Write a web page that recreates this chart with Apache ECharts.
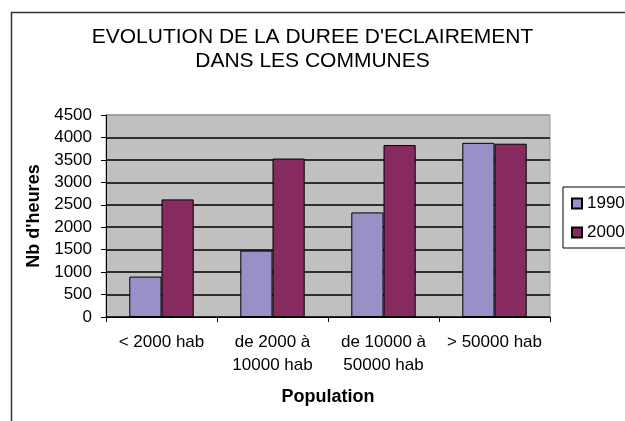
<!DOCTYPE html>
<html>
<head>
<meta charset="utf-8">
<script src="https://cdn.jsdelivr.net/npm/echarts@6/dist/echarts.min.js"></script>
<style>
  * { margin: 0; padding: 0; }
  body { background: #fff; }
  #chart { width: 625px; height: 421px; }
</style>
</head>
<body>
<div id="chart"></div>
<script>
// tranches de population
var categories = ["< 2000 hab", "de 2000 à\n10000 hab", "de 10000 à\n50000 hab", "> 50000 hab"];
// nombre d'heures d'éclairage
var data1990 = [900, 1480, 2330, 3880];
var data2000 = [2620, 3530, 3830, 3860];
var yTicks = [0, 500, 1000, 1500, 2000, 2500, 3000, 3500, 4000, 4500];

var font = "Liberation Sans, Arial, sans-serif";
// lignes de grille noires, sauf la derniere (bord du cadre)
var gridColors = yTicks.map(function (v, i) { return i === yTicks.length - 1 ? "#9a9a9a" : "#000"; });

var myChart = echarts.init(document.getElementById("chart"));
myChart.setOption({
  animation: false,
  backgroundColor: "#fff",
  title: {
    text: "EVOLUTION DE LA DUREE D'ECLAIREMENT\nDANS LES COMMUNES",
    left: "center",
    top: 20,
    textStyle: { fontFamily: font, fontSize: 21, fontWeight: "normal", color: "#000", lineHeight: 24 }
  },
  graphic: [{
    type: "rect",
    z: -1,
    shape: { x: 11.5, y: 12.5, width: 700, height: 500 },
    style: { fill: null, stroke: "#333", lineWidth: 1.5 }
  }],
  legend: {
    orient: "vertical",
    left: 563,
    top: 187,
    padding: [8, 30, 7, 8],
    itemGap: 12,
    itemWidth: 10,
    itemHeight: 10,
    icon: "rect",
    borderColor: "#000",
    borderWidth: 1,
    backgroundColor: "#fff",
    textStyle: { fontFamily: font, fontSize: 17, color: "#000", lineHeight: 16 },
    data: ["1990", "2000"]
  },
  grid: {
    left: 106, right: 75, top: 115, bottom: 104,
    show: true,
    backgroundColor: "#c0c0c0",
    borderColor: "#9a9a9a",
    borderWidth: 1
  },
  xAxis: {
    type: "category",
    data: categories,
    name: "Population",
    nameLocation: "middle",
    nameGap: 71,
    nameTextStyle: { fontFamily: font, fontSize: 18, fontWeight: "bold", color: "#000", verticalAlign: "top" },
    axisLine: { lineStyle: { color: "#000", width: 1 } },
    axisTick: { show: true, length: 5, lineStyle: { color: "#000" } },
    axisLabel: { interval: 0, margin: 14, fontFamily: font, fontSize: 17, color: "#000", lineHeight: 23 }
  },
  yAxis: {
    type: "value",
    min: 0,
    max: 4500,
    interval: 500,
    name: "Nb d'heures",
    nameLocation: "middle",
    nameGap: 61,
    nameTextStyle: { fontFamily: font, fontSize: 18, fontWeight: "bold", color: "#000" },
    axisLine: { show: true, lineStyle: { color: "#000", width: 1 } },
    axisTick: { show: true, length: 5, lineStyle: { color: "#000" } },
    axisLabel: {
      margin: 14, fontFamily: font, fontSize: 17, color: "#000",
      formatter: function (v) { return String(v); }
    },
    splitLine: { show: true, lineStyle: { color: gridColors, width: 1.5 } }
  },
  series: [
    {
      name: "1990",
      type: "bar",
      data: data1990,
      barGap: "0%",
      barCategoryGap: "42%",
      itemStyle: { color: "#9990c8", borderColor: "#000", borderWidth: 1 }
    },
    {
      name: "2000",
      type: "bar",
      data: data2000,
      itemStyle: { color: "#862a60", borderColor: "#000", borderWidth: 1 }
    }
  ]
});
</script>
</body>
</html>
